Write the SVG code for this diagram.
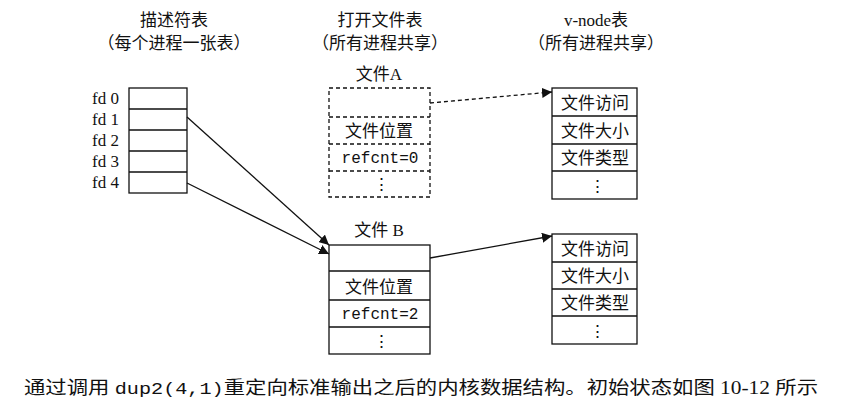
<svg xmlns="http://www.w3.org/2000/svg" width="857" height="416" viewBox="0 0 857 416">
<style>
text{font-family:"Liberation Serif","Noto Sans CJK SC",serif;font-size:17px;fill:#111}
.c{text-anchor:middle}
.m{font-family:"Liberation Mono","Noto Sans CJK SC",monospace;font-size:16px}
.b{fill:#fff;stroke:#111;stroke-width:1.3}
.d{fill:#fff;stroke:#111;stroke-width:1.3;stroke-dasharray:4 3}
.l{stroke:#111;stroke-width:1.3}
.ld{stroke:#111;stroke-width:1.3;stroke-dasharray:4 3}
</style>
<defs><marker id="a" viewBox="0 0 10 10" refX="10" refY="5" markerWidth="10" markerHeight="10" orient="auto" markerUnits="userSpaceOnUse"><path d="M0,0L10,5L0,10z" fill="#111"/></marker></defs>
<rect width="857" height="416" fill="#fff"/>
<g id="headers">
<text class="c" x="174" y="26">描述符表</text><text class="c" x="174" y="49">（每个进程一张表）</text>
<text class="c" x="380" y="26">打开文件表</text><text class="c" x="380" y="49">（所有进程共享）</text>
<text class="c" x="596" y="26">v-node表</text><text class="c" x="596" y="49">（所有进程共享）</text>
</g>
<g id="fdtable">
<rect class="b" x="129" y="88" width="58" height="105"/>
<path class="l" d="M129,109H187M129,130H187M129,151H187M129,172H187"/>
<g text-anchor="end"><text x="119" y="104">fd 0</text><text x="119" y="125">fd 1</text><text x="119" y="146">fd 2</text><text x="119" y="167">fd 3</text><text x="119" y="188">fd 4</text></g>
</g>
<g id="fileA">
<text class="c" x="379" y="80">文件A</text>
<rect class="d" x="329" y="88" width="101" height="109"/>
<path class="ld" d="M329,117H430M329,144H430M329,171H430"/>
<text class="c" x="379" y="137">文件位置</text>
<text class="c m" x="380" y="163">refcnt=0</text>
<text class="c" x="381" y="190">⋮</text>
</g>
<g id="fileB">
<text class="c" x="379" y="236">文件 B</text>
<rect class="b" x="329" y="245" width="101" height="109"/>
<path class="l" d="M329,271H430M329,300H430M329,327H430"/>
<text class="c" x="379" y="293">文件位置</text>
<text class="c m" x="380" y="319">refcnt=2</text>
<text class="c" x="381" y="347">⋮</text>
</g>
<g id="vnodeA">
<rect class="b" x="552" y="88" width="85" height="111"/>
<path class="l" d="M552,116H637M552,144H637M552,171H637"/>
<text class="c" x="595" y="109">文件访问</text><text class="c" x="595" y="137">文件大小</text><text class="c" x="595" y="164">文件类型</text><text class="c" x="597" y="192">⋮</text>
</g>
<g id="vnodeB">
<rect class="b" x="552" y="234" width="85" height="110"/>
<path class="l" d="M552,262H637M552,289H637M552,316H637"/>
<text class="c" x="595" y="255">文件访问</text><text class="c" x="595" y="282">文件大小</text><text class="c" x="595" y="309">文件类型</text><text class="c" x="597" y="337">⋮</text>
</g>
<g id="connectors" fill="none">
<path class="l" d="M187,117L329,245" marker-end="url(#a)"/>
<path class="l" d="M187,183L329,254" marker-end="url(#a)"/>
<path class="ld" d="M430,103L552,92" marker-end="url(#a)"/>
<path class="l" d="M430,258L552,236" marker-end="url(#a)"/>
</g>
<text x="24" y="394" style="font-size:18px" textLength="794" lengthAdjust="spacingAndGlyphs">通过调用 <tspan class="m" style="font-size:17px">dup2(4,1)</tspan>重定向标准输出之后的内核数据结构。初始状态如图 10-12 所示</text>
</svg>
